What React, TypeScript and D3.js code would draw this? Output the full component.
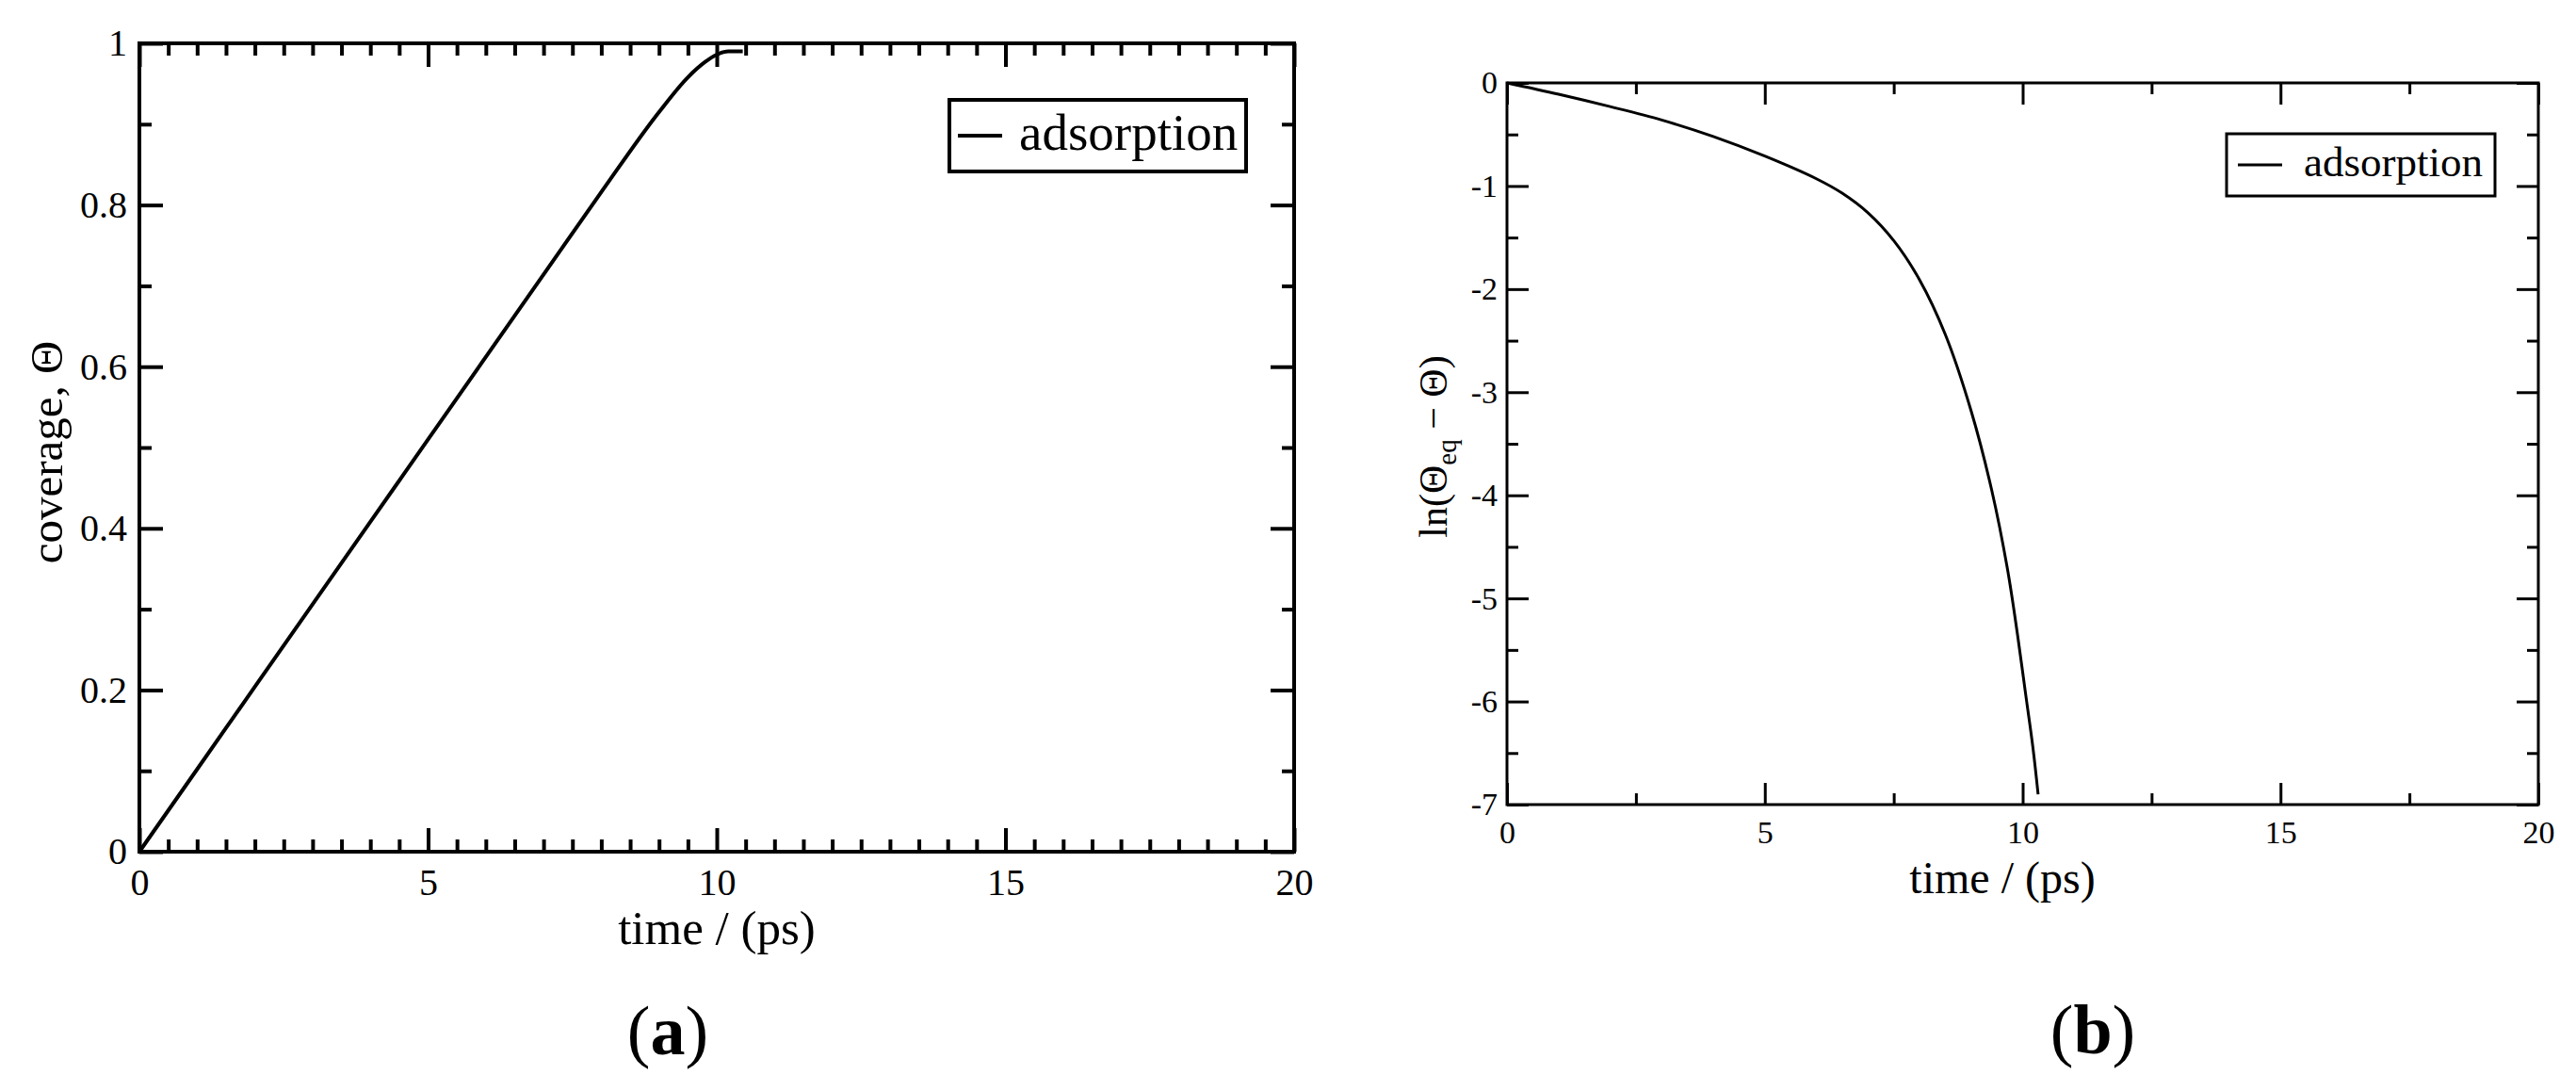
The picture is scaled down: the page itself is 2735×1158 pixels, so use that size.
import React, { useRef, useEffect } from "react";
import * as d3 from "d3";

// panel (a): coverage vs time
const timeA = [0, 1, 2, 3, 4, 5, 6, 7, 8, 9, 9.5, 9.8, 10, 10.2, 10.45];
const coverageA = [0, 0.102, 0.204, 0.306, 0.408, 0.51, 0.612, 0.714, 0.816, 0.915, 0.958, 0.977, 0.986, 0.99, 0.99];

// panel (b): ln(theta_eq - theta) vs time
const timeB = [0, 1, 2, 3, 4, 5, 6, 6.5, 7, 7.5, 8, 8.5, 9, 9.4, 9.7, 9.9, 10.05, 10.2, 10.3];
const lnB = [0, -0.11, -0.23, -0.36, -0.52, -0.71, -0.93, -1.07, -1.26, -1.53, -1.91, -2.44, -3.18, -3.95, -4.7, -5.35, -5.9, -6.45, -6.9];

const xTicks = [0, 5, 10, 15, 20];
const yTicksA = [0, 0.2, 0.4, 0.6, 0.8, 1];
const yTicksB = [0, -1, -2, -3, -4, -5, -6, -7];

const FONT = "'Liberation Serif', 'DejaVu Serif', serif";

function drawFrame(g: any, x: any, y: any, opt: any) {
  const w = x.range()[1] - x.range()[0];
  const h = y.range()[0] - y.range()[1];
  const x0 = x.range()[0];
  const y0 = y.range()[1];

  // bottom
  g.append("g")
    .attr("transform", `translate(0,${y0 + h})`)
    .call(d3.axisBottom(x).tickValues(opt.xMinor).tickSize(-opt.minor).tickFormat(() => ""));
  g.append("g")
    .attr("transform", `translate(0,${y0 + h})`)
    .call(d3.axisBottom(x).tickValues(xTicks).tickSize(-opt.major).tickPadding(opt.xPad).tickFormat(d3.format("d")))
    .selectAll("text")
    .attr("font-size", opt.tickFont);
  // top
  g.append("g")
    .attr("transform", `translate(0,${y0})`)
    .call(d3.axisTop(x).tickValues(opt.xMinor).tickSize(-opt.minor).tickFormat(() => ""));
  g.append("g")
    .attr("transform", `translate(0,${y0})`)
    .call(d3.axisTop(x).tickValues(xTicks).tickSize(-opt.major).tickFormat(() => ""));
  // left
  g.append("g")
    .attr("transform", `translate(${x0},0)`)
    .call(d3.axisLeft(y).tickValues(opt.yMinor).tickSize(-opt.minor).tickFormat(() => ""));
  g.append("g")
    .attr("transform", `translate(${x0},0)`)
    .call(d3.axisLeft(y).tickValues(opt.yTicks).tickSize(-opt.major).tickPadding(opt.yPad).tickFormat(opt.yFormat))
    .selectAll("text")
    .attr("font-size", opt.tickFont);
  // right
  g.append("g")
    .attr("transform", `translate(${x0 + w},0)`)
    .call(d3.axisRight(y).tickValues(opt.yMinor).tickSize(-opt.minor).tickFormat(() => ""));
  g.append("g")
    .attr("transform", `translate(${x0 + w},0)`)
    .call(d3.axisRight(y).tickValues(opt.yTicks).tickSize(-opt.major).tickFormat(() => ""));

  g.selectAll(".domain").remove();
  g.selectAll(".tick line").attr("stroke", "#000").attr("stroke-width", opt.stroke);
  g.selectAll(".tick text").attr("font-family", FONT).attr("fill", "#000");

  g.append("rect")
    .attr("x", x0)
    .attr("y", y0)
    .attr("width", w)
    .attr("height", h)
    .attr("fill", "none")
    .attr("stroke", "#000")
    .attr("stroke-width", opt.stroke);
}

export default function App() {
  const svgRef = useRef<SVGSVGElement>(null);

  useEffect(() => {
    const svg = d3.select(svgRef.current);
    svg.selectAll("*").remove();

    // ---------- panel (a)
    const xA = d3.scaleLinear().domain([0, 20]).range([148, 1374]);
    const yA = d3.scaleLinear().domain([0, 1]).range([904, 46]);
    const gA = svg.append("g");
    drawFrame(gA, xA, yA, {
      xMinor: d3.range(0, 20.01, 0.5).filter((v) => v % 5 !== 0),
      yMinor: [0.1, 0.3, 0.5, 0.7, 0.9],
      yTicks: yTicksA,
      yFormat: (d: number) => String(d),
      major: 25,
      minor: 13,
      stroke: 4,
      tickFont: 40,
      xPad: 18,
      yPad: 13,
    });

    const lineA = d3.line<number>()
      .x((d, i) => xA(timeA[i]))
      .y((d) => yA(d))
      .curve(d3.curveMonotoneX);
    gA.append("path")
      .attr("d", lineA(coverageA))
      .attr("fill", "none")
      .attr("stroke", "#000")
      .attr("stroke-width", 4);

    gA.append("text")
      .attr("x", 761)
      .attr("y", 1002)
      .attr("text-anchor", "middle")
      .attr("font-family", FONT)
      .attr("font-size", 51)
      .text("time / (ps)");
    gA.append("text")
      .attr("transform", "translate(66,480) rotate(-90)")
      .attr("text-anchor", "middle")
      .attr("font-family", FONT)
      .attr("font-size", 49)
      .text("coverage, Θ");

    // legend (a)
    gA.append("rect")
      .attr("x", 1008).attr("y", 106).attr("width", 315).attr("height", 76)
      .attr("fill", "#fff").attr("stroke", "#000").attr("stroke-width", 4);
    gA.append("line")
      .attr("x1", 1017).attr("x2", 1064).attr("y1", 144).attr("y2", 144)
      .attr("stroke", "#000").attr("stroke-width", 4);
    gA.append("text")
      .attr("x", 1082).attr("y", 159)
      .attr("font-family", FONT).attr("font-size", 55)
      .text("adsorption");

    // ---------- panel (b)
    const xB = d3.scaleLinear().domain([0, 20]).range([1600, 2695]);
    const yB = d3.scaleLinear().domain([-7, 0]).range([854, 88]);
    const gB = svg.append("g");
    drawFrame(gB, xB, yB, {
      xMinor: [2.5, 7.5, 12.5, 17.5],
      yMinor: [-0.5, -1.5, -2.5, -3.5, -4.5, -5.5, -6.5],
      yTicks: yTicksB,
      yFormat: (d: number) => (d < 0 ? "-" + Math.abs(d) : String(d)),
      major: 23,
      minor: 12,
      stroke: 3,
      tickFont: 34,
      xPad: 17,
      yPad: 10,
    });

    const lineB = d3.line<number>()
      .x((d, i) => xB(timeB[i]))
      .y((d) => yB(d))
      .curve(d3.curveCatmullRom.alpha(0.5));
    gB.append("path")
      .attr("d", lineB(lnB))
      .attr("fill", "none")
      .attr("stroke", "#000")
      .attr("stroke-width", 3);

    gB.append("text")
      .attr("x", 2126)
      .attr("y", 948)
      .attr("text-anchor", "middle")
      .attr("font-family", FONT)
      .attr("font-size", 48)
      .text("time / (ps)");
    const yt = gB.append("text")
      .attr("transform", "translate(1536,474) rotate(-90)")
      .attr("text-anchor", "middle")
      .attr("font-family", FONT)
      .attr("font-size", 42);
    yt.append("tspan").text("ln(Θ");
    yt.append("tspan").attr("font-size", 29).attr("dy", 10).text("eq");
    yt.append("tspan").attr("dy", -10).text(" − Θ)");

    // legend (b)
    gB.append("rect")
      .attr("x", 2364).attr("y", 142).attr("width", 285).attr("height", 66)
      .attr("fill", "#fff").attr("stroke", "#000").attr("stroke-width", 3);
    gB.append("line")
      .attr("x1", 2376).attr("x2", 2423).attr("y1", 175).attr("y2", 175)
      .attr("stroke", "#000").attr("stroke-width", 3);
    gB.append("text")
      .attr("x", 2446).attr("y", 187)
      .attr("font-family", FONT).attr("font-size", 45)
      .text("adsorption");

    // sub captions
    const caps: [string, number, number][] = [["a", 709, 1119], ["b", 2222, 1118]];
    caps.forEach(([c, cx, cy]) => {
      const t = svg.append("text")
        .attr("x", cx).attr("y", cy)
        .attr("text-anchor", "middle")
        .attr("font-family", FONT).attr("font-size", 74);
      t.append("tspan").text("(");
      t.append("tspan").attr("font-weight", "bold").text(c);
      t.append("tspan").text(")");
    });
  }, []);

  return (
    <svg
      ref={svgRef}
      width={2735}
      height={1158}
      style={{ position: "absolute", left: 0, top: 0, background: "#fff" }}
    />
  );
}
